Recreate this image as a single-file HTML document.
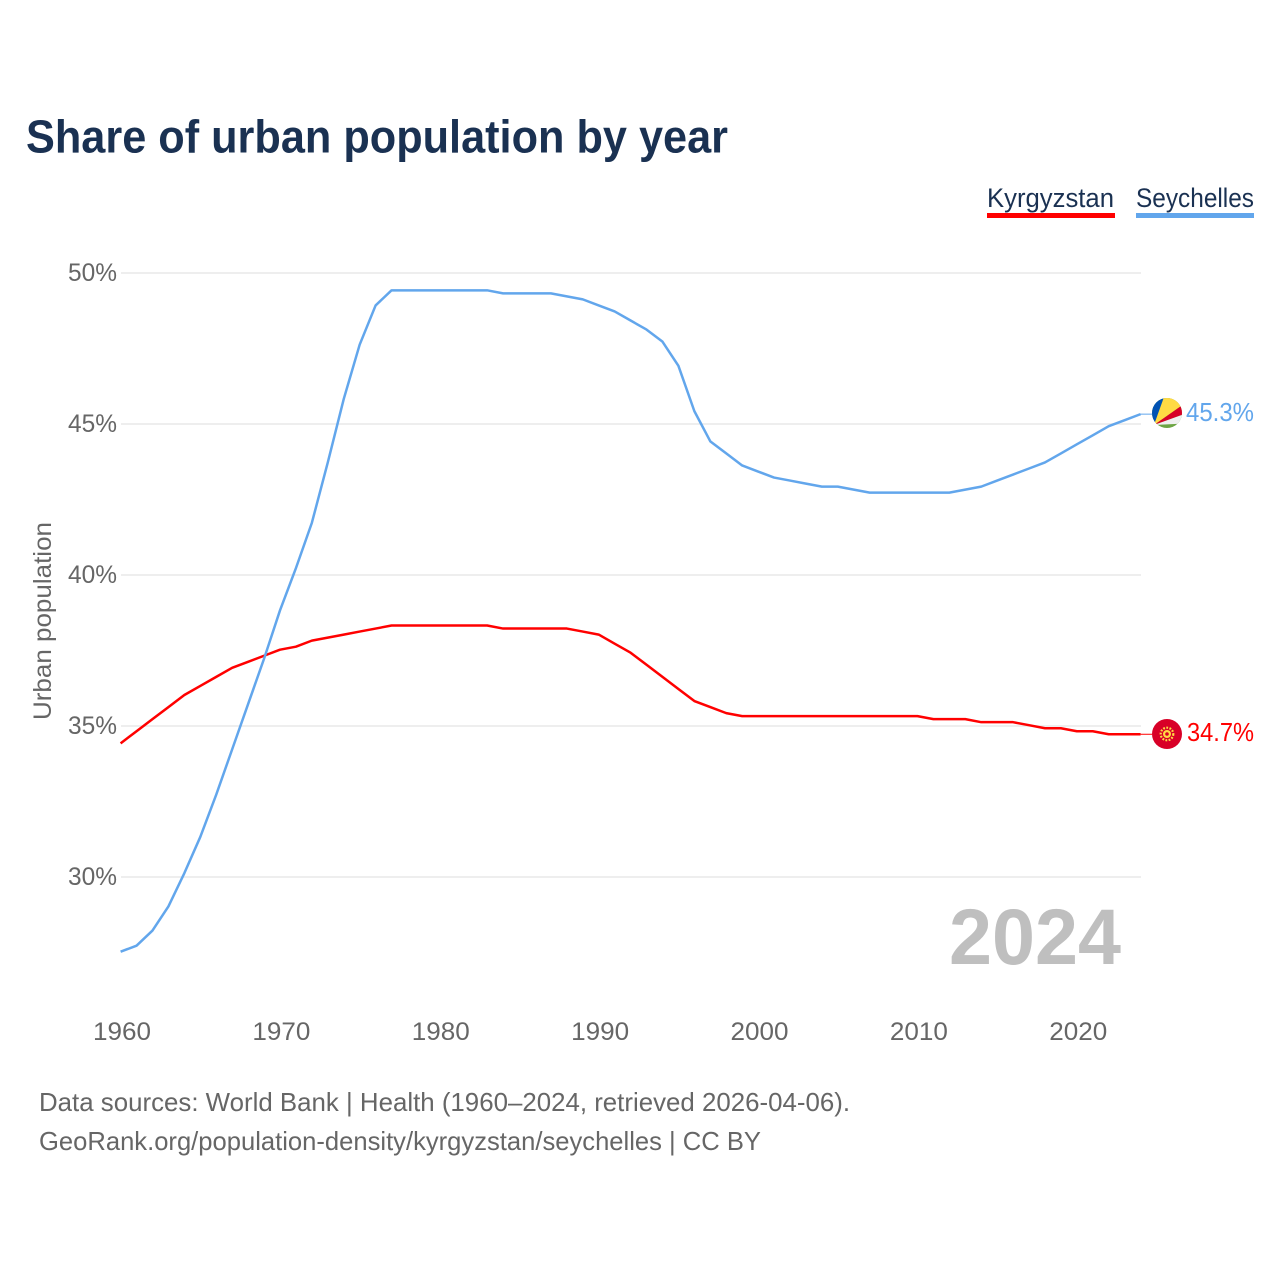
<!DOCTYPE html>
<html lang="en">
<head>
<meta charset="utf-8">
<title>Share of urban population by year</title>
<style>
html,body{margin:0;padding:0;background:#fff;}
svg{display:block;font-family:"Liberation Sans",sans-serif;}
</style>
</head>
<body>
<svg id="chart" xmlns="http://www.w3.org/2000/svg" width="1280" height="1280" viewBox="0 0 1280 1280">
  <defs>
    <clipPath id="sc-clip"><circle cx="1167" cy="413" r="15"/></clipPath>
  </defs>
  <rect x="0" y="0" width="1280" height="1280" fill="#ffffff"/>
  <text x="26" y="152.5" font-size="46" font-weight="700" fill="#1a3152" textLength="702" lengthAdjust="spacingAndGlyphs">Share of urban population by year</text>

  <g>
    <g>
      <text x="987" y="207" font-size="27" fill="#1a3152" textLength="127" lengthAdjust="spacingAndGlyphs">Kyrgyzstan</text>
      <rect x="987" y="213" width="128" height="5" fill="#ff0000"/>
    </g>
    <g>
      <text x="1136" y="207" font-size="27" fill="#1a3152" textLength="118" lengthAdjust="spacingAndGlyphs">Seychelles</text>
      <rect x="1136" y="213" width="118" height="5" fill="#62a6ec"/>
    </g>
  </g>

  <g id="grid"></g>
  <g id="y-ticks"></g>
  <g id="x-ticks"></g>

  <text transform="translate(51,720) rotate(-90)" font-size="25" fill="#666666" textLength="198" lengthAdjust="spacingAndGlyphs">Urban population</text>

  <text x="949" y="964" font-size="79" font-weight="700" fill="#bfbfbf" textLength="172" lengthAdjust="spacingAndGlyphs">2024</text>

  <g id="series"></g>

  <g clip-path="url(#sc-clip)">
    <rect x="1150" y="396" width="36" height="34" fill="#6da544"/>
    <polygon points="1154,425 1148,396 1164.4,396" fill="#0052b4"/>
    <polygon points="1154,425 1164.4,396 1184,396 1184,404" fill="#ffda44"/>
    <polygon points="1154,425 1184,404 1184,414.2" fill="#d80027"/>
    <polygon points="1154,425 1184,414.2 1184,423.5" fill="#f0f0f0"/>
  </g>

  <g>
    <circle cx="1167" cy="734" r="15" fill="#d80027"/>
    <circle cx="1167" cy="734" r="6.3" fill="none" stroke="#ffda44" stroke-width="2.2" stroke-dasharray="1.8 1.4"/>
    <circle cx="1167" cy="734" r="4" fill="#ffda44"/>
    <circle cx="1167" cy="734" r="1.8" fill="#d80027"/>
  </g>

  <text x="1186" y="421" font-size="26" fill="#62a6ec" textLength="68" lengthAdjust="spacingAndGlyphs">45.3%</text>
  <text x="1187" y="741" font-size="26" fill="#ff0000" textLength="67" lengthAdjust="spacingAndGlyphs">34.7%</text>

  <g>
    <text x="39" y="1111" font-size="26" fill="#666666" textLength="811" lengthAdjust="spacingAndGlyphs">Data sources: World Bank | Health (1960–2024, retrieved 2026-04-06).</text>
    <text x="39" y="1150" font-size="26" fill="#666666" textLength="722" lengthAdjust="spacingAndGlyphs">GeoRank.org/population-density/kyrgyzstan/seychelles | CC BY</text>
  </g>
</svg>
<script>
const years = [1960,1961,1962,1963,1964,1965,1966,1967,1968,1969,1970,1971,1972,1973,1974,1975,1976,1977,1978,1979,1980,1981,1982,1983,1984,1985,1986,1987,1988,1989,1990,1991,1992,1993,1994,1995,1996,1997,1998,1999,2000,2001,2002,2003,2004,2005,2006,2007,2008,2009,2010,2011,2012,2013,2014,2015,2016,2017,2018,2019,2020,2021,2022,2023,2024];
const kyrgyzstan = [34.4,34.8,35.2,35.6,36.0,36.3,36.6,36.9,37.1,37.3,37.5,37.6,37.8,37.9,38.0,38.1,38.2,38.3,38.3,38.3,38.3,38.3,38.3,38.3,38.2,38.2,38.2,38.2,38.2,38.1,38.0,37.7,37.4,37.0,36.6,36.2,35.8,35.6,35.4,35.3,35.3,35.3,35.3,35.3,35.3,35.3,35.3,35.3,35.3,35.3,35.3,35.2,35.2,35.2,35.1,35.1,35.1,35.0,34.9,34.9,34.8,34.8,34.7,34.7,34.7];
const seychelles = [27.5,27.7,28.2,29.0,30.1,31.3,32.7,34.2,35.7,37.2,38.8,40.2,41.7,43.7,45.8,47.6,48.9,49.4,49.4,49.4,49.4,49.4,49.4,49.4,49.3,49.3,49.3,49.3,49.2,49.1,48.9,48.7,48.4,48.1,47.7,46.9,45.4,44.4,44.0,43.6,43.4,43.2,43.1,43.0,42.9,42.9,42.8,42.7,42.7,42.7,42.7,42.7,42.7,42.8,42.9,43.1,43.3,43.5,43.7,44.0,44.3,44.6,44.9,45.1,45.3];
const yTickValues = [30,35,40,45,50];
const xTickValues = [1960,1970,1980,1990,2000,2010,2020];

const NS = 'http://www.w3.org/2000/svg';
function xScale(year){ return 120.6 + (year - 1960) * (1020 / 64); }
function yScale(value){ return 876.2 - (value - 30) * 30.2; }

const gridGroup = document.getElementById('grid');
const yTickGroup = document.getElementById('y-ticks');
const xTickGroup = document.getElementById('x-ticks');
const seriesGroup = document.getElementById('series');

yTickValues.forEach(function(v){
  const line = document.createElementNS(NS,'line');
  
  
  line.setAttribute('x1', 121);
  line.setAttribute('x2', 1141);
  line.setAttribute('y1', yScale(v) + 0.8);
  line.setAttribute('y2', yScale(v) + 0.8);
  line.setAttribute('stroke', '#e8e8e8');
  line.setAttribute('stroke-width', '1.5');
  gridGroup.appendChild(line);

  const label = document.createElementNS(NS,'text');
  
  
  label.setAttribute('x', 68);
  label.setAttribute('y', yScale(v) + 9);
  label.setAttribute('font-size', '25');
  label.setAttribute('fill', '#666666');
  label.setAttribute('textLength', '49');
  label.setAttribute('lengthAdjust', 'spacingAndGlyphs');
  label.textContent = v + '%';
  yTickGroup.appendChild(label);
});

xTickValues.forEach(function(y){
  const label = document.createElementNS(NS,'text');
  
  
  label.setAttribute('x', xScale(y) - 27.6);
  label.setAttribute('y', 1040);
  label.setAttribute('font-size', '25');
  label.setAttribute('fill', '#666666');
  label.setAttribute('textLength', '58');
  label.setAttribute('lengthAdjust', 'spacingAndGlyphs');
  label.textContent = y;
  xTickGroup.appendChild(label);
});

function pathFor(values){
  return values.map(function(v,i){
    return (i ? 'L' : 'M') + xScale(years[i]).toFixed(2) + ' ' + yScale(v).toFixed(2);
  }).join(' ');
}

const kyrgyzLine = document.createElementNS(NS,'path');


kyrgyzLine.setAttribute('d', pathFor(kyrgyzstan));
kyrgyzLine.setAttribute('fill', 'none');
kyrgyzLine.setAttribute('stroke', '#ff0000');
kyrgyzLine.setAttribute('stroke-width', '2.5');
kyrgyzLine.setAttribute('stroke-linejoin', 'round');
seriesGroup.appendChild(kyrgyzLine);

const seychellesLine = document.createElementNS(NS,'path');


seychellesLine.setAttribute('d', pathFor(seychelles));
seychellesLine.setAttribute('fill', 'none');
seychellesLine.setAttribute('stroke', '#62a6ec');
seychellesLine.setAttribute('stroke-width', '2.5');
seychellesLine.setAttribute('stroke-linejoin', 'round');
seriesGroup.appendChild(seychellesLine);

const kyrgyzLeader = document.createElementNS(NS,'line');


kyrgyzLeader.setAttribute('x1', xScale(2024));
kyrgyzLeader.setAttribute('x2', 1152);
kyrgyzLeader.setAttribute('y1', yScale(kyrgyzstan[kyrgyzstan.length - 1]));
kyrgyzLeader.setAttribute('y2', yScale(kyrgyzstan[kyrgyzstan.length - 1]));
kyrgyzLeader.setAttribute('stroke', '#ff0000');
kyrgyzLeader.setAttribute('stroke-width', '1');
seriesGroup.appendChild(kyrgyzLeader);

const seychellesLeader = document.createElementNS(NS,'line');


seychellesLeader.setAttribute('x1', xScale(2024));
seychellesLeader.setAttribute('x2', 1152);
seychellesLeader.setAttribute('y1', yScale(seychelles[seychelles.length - 1]));
seychellesLeader.setAttribute('y2', yScale(seychelles[seychelles.length - 1]));
seychellesLeader.setAttribute('stroke', '#62a6ec');
seychellesLeader.setAttribute('stroke-width', '1');
seriesGroup.appendChild(seychellesLeader);
</script>
</body>
</html>
